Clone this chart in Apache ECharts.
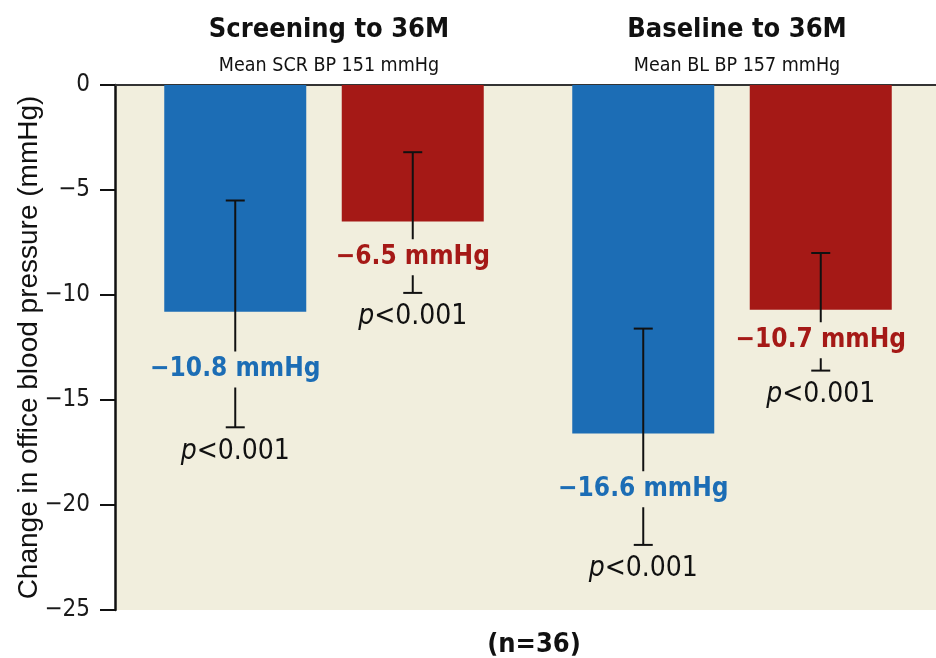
<!DOCTYPE html>
<html>
<head>
<meta charset="utf-8">
<script src="https://cdn.jsdelivr.net/npm/echarts@6/dist/echarts.min.js"></script>
<style>html,body{margin:0;padding:0;background:#fff}#c{width:936px;height:658px}</style>
</head>
<body>
<div id="c"></div>
<script>
// ---- data ----
const categories = ['Screening to 36M', 'Baseline to 36M'];
const subtitles = ['Mean SCR BP 151 mmHg', 'Mean BL BP 157 mmHg'];
const blueValues = [-10.8, -16.6];
const blueErrHigh = [-5.5, -11.6];
const blueErrLow = [-16.3, -21.9];
const redValues = [-6.5, -10.7];
const redErrHigh = [-3.2, -8.0];
const redErrLow = [-9.9, -13.6];
const bluePValues = ['p<0.001', 'p<0.001'];
const redPValues = ['p<0.001', 'p<0.001'];
const yTickValues = [0, -5, -10, -15, -20, -25];
const nLabel = '(n=36)';

// ---- style ----
const BLUE = '#1c6db5';
const RED = '#a51916';
const BG = '#f1eedd';
const COND = "'Liberation Sans Narrow','DejaVu Sans Condensed','Liberation Sans',sans-serif";
const BAR_W = 142;
const GAP_PX = 35.5;
const OFFSET = (BAR_W + GAP_PX) / 2;
const GRID_L = 120, AXIS_OFF = 5, GRID_T = 85, GRID_B = 48;

function minus(v) { return (v < 0 ? '\u2212' : '') + Math.abs(v); }

function errSeries(name, values, hi, lo, pv, color, side) {
  const data = values.map((v, i) => [i, hi[i], lo[i], v, pv[i]]);
  return {
    name: name + ' error',
    type: 'custom',
    z: 5,
    data: data,
    encode: { x: 0, y: [1, 2] },
    renderItem: function (params, api) {
      const ci = api.value(0);
      const x = api.coord([ci, 0])[0] + side * OFFSET;
      const yHi = api.coord([ci, api.value(1)])[1];
      const yLo = api.coord([ci, api.value(2)])[1];
      const v = api.value(3);
      const yV = api.coord([ci, v])[1];
      const yMid = (yV + yLo) / 2;
      const cap = 9.5;
      const ls = { stroke: '#111', lineWidth: 2 };
      const p = data[params.dataIndex][4];
      return {
        type: 'group',
        children: [
          { type: 'line', shape: { x1: x, y1: yHi, x2: x, y2: yLo }, style: ls },
          { type: 'line', shape: { x1: x - cap, y1: yHi, x2: x + cap, y2: yHi }, style: ls },
          { type: 'line', shape: { x1: x - cap, y1: yLo, x2: x + cap, y2: yLo }, style: ls },
          {
            type: 'text', z2: 10,
            style: {
              text: minus(v.toFixed(1)) + ' mmHg',
              x: x, y: yMid, align: 'center', verticalAlign: 'middle',
              fill: color, font: 'bold 26px ' + COND,
              backgroundColor: BG, padding: [5, 1]
            }
          },
          {
            type: 'text', z2: 10,
            style: {
              text: '{i|' + p.charAt(0) + '}' + p.slice(1),
              x: x, y: yLo + 24, align: 'center', verticalAlign: 'middle',
              fill: '#111', font: '28px ' + COND,
              rich: { i: { font: 'italic 28px ' + COND, fill: '#111' } }
            }
          }
        ]
      };
    }
  };
}

const chart = echarts.init(document.getElementById('c'));
chart.setOption({
  animation: false,
  backgroundColor: '#fff',
  title: {
    text: nLabel, left: 529, top: 626, textAlign: 'center',
    textStyle: { fontFamily: COND, fontWeight: 'bold', fontSize: 27, color: '#111' }
  },
  graphic: [
    { type: 'rect', shape: { x: GRID_L - AXIS_OFF, y: GRID_T, width: AXIS_OFF + 1, height: 658 - GRID_T - GRID_B }, style: { fill: BG }, z: -1, silent: true },
    { type: 'line', shape: { x1: GRID_L - AXIS_OFF, y1: GRID_T, x2: GRID_L + 1, y2: GRID_T }, style: { stroke: '#333', lineWidth: 2 }, z: 1, silent: true }
  ],
  grid: { left: GRID_L, right: 0, top: GRID_T, bottom: GRID_B, show: true, backgroundColor: BG, borderWidth: 0 },
  xAxis: {
    type: 'category',
    position: 'top',
    data: categories,
    axisLine: { show: true, onZero: false, lineStyle: { color: '#333', width: 2 } },
    axisTick: { show: false },
    axisLabel: {
      margin: 6,
      formatter: function (val, idx) { return '{t|' + val + '}\n{s|' + subtitles[idx] + '}'; },
      rich: {
        t: { fontFamily: COND, fontWeight: 'bold', fontSize: 27, color: '#111', lineHeight: 46, padding: [0, 0, 0, 10] },
        s: { fontFamily: COND, fontSize: 19.5, color: '#111', lineHeight: 26, padding: [0, 0, 0, 10] }
      }
    }
  },
  yAxis: {
    type: 'value',
    min: -25, max: 0, interval: 5,
    offset: AXIS_OFF,
    name: 'Change in office blood pressure (mmHg)',
    nameLocation: 'middle',
    nameGap: 72,
    nameMoveOverlap: false,
    nameTextStyle: { fontFamily: "'Liberation Sans',Arial,sans-serif", fontSize: 28, color: '#111' },
    axisLine: { show: true, lineStyle: { color: '#111', width: 2.5 } },
    axisTick: { show: true, length: 15, lineStyle: { color: '#111', width: 2 } },
    splitLine: { show: false },
    axisLabel: {
      margin: 25,
      fontFamily: COND, fontSize: 24, color: '#1a1a1a',
      formatter: function (v) { return yTickValues.indexOf(v) >= 0 ? minus(v) : ''; }
    }
  },
  series: [
    { name: 'Blue', type: 'bar', data: blueValues, barWidth: BAR_W, barGap: (GAP_PX / BAR_W * 100) + '%', itemStyle: { color: BLUE }, z: 2 },
    { name: 'Red', type: 'bar', data: redValues, barWidth: BAR_W, itemStyle: { color: RED }, z: 2 },
    errSeries('Blue', blueValues, blueErrHigh, blueErrLow, bluePValues, BLUE, -1),
    errSeries('Red', redValues, redErrHigh, redErrLow, redPValues, RED, 1)
  ]
});
</script>
</body>
</html>
